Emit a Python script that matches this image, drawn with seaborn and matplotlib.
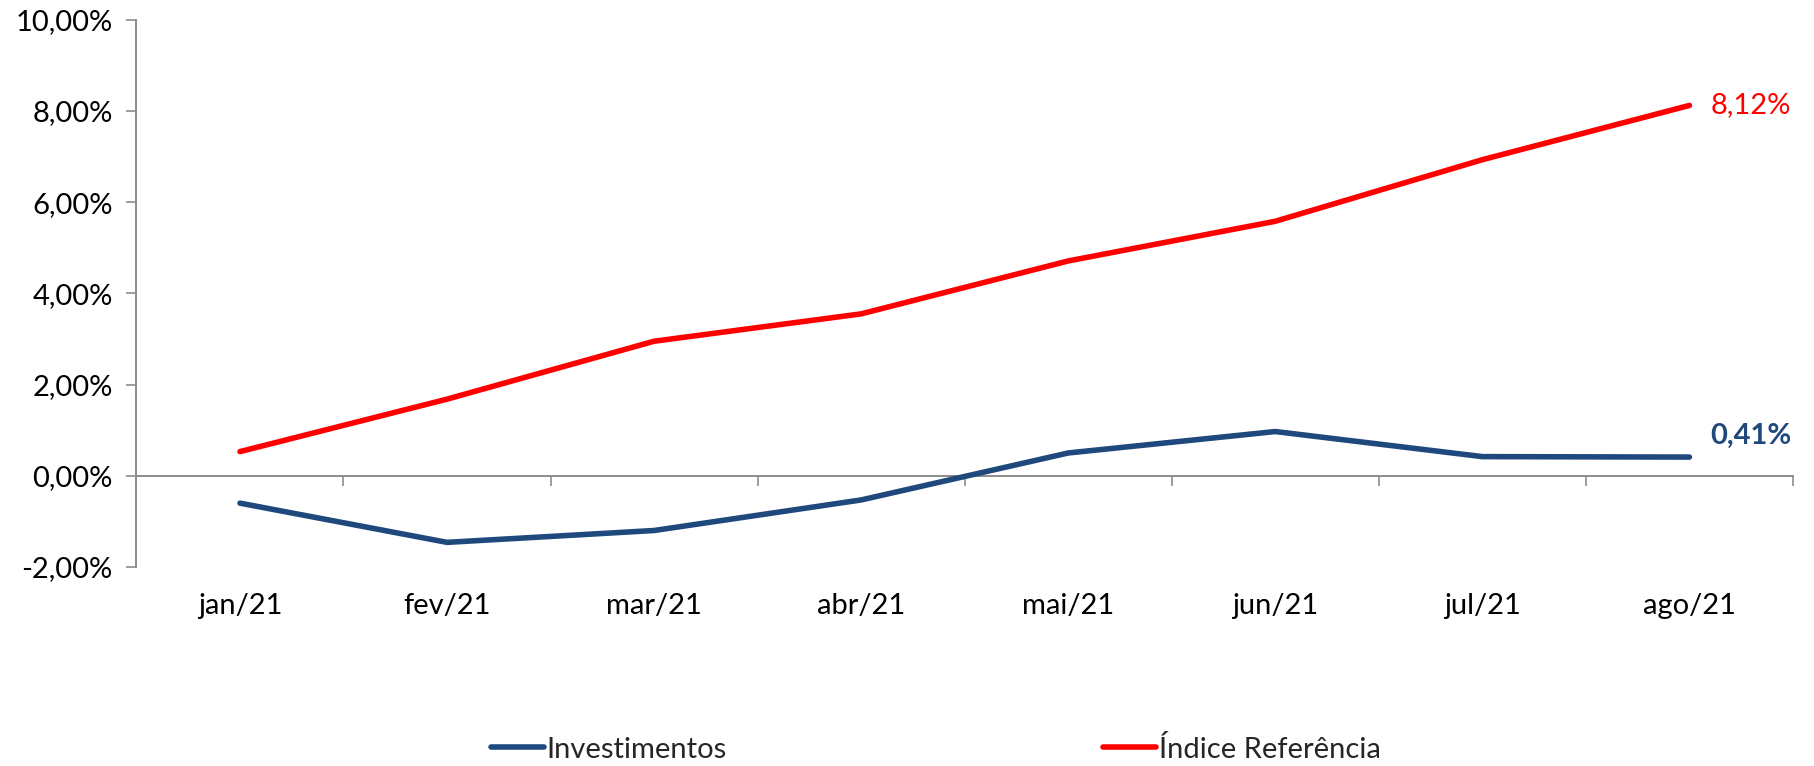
import numpy as np
import pandas as pd
import matplotlib
matplotlib.use("Agg")
import matplotlib.pyplot as plt
import seaborn as sns

# Monthly accumulated returns (%)
meses = ["jan/21", "fev/21", "mar/21", "abr/21", "mai/21", "jun/21", "jul/21", "ago/21"]
investimentos = [-0.60, -1.46, -1.20, -0.53, 0.50, 0.97, 0.42, 0.41]
indice_referencia = [0.53, 1.68, 2.95, 3.55, 4.71, 5.58, 6.93, 8.12]
series_nomes = ["Investimentos", "Índice Referência"]
y_ticks = [-2, 0, 2, 4, 6, 8, 10]

sns.set_theme(style="white")
plt.rcParams["font.family"] = ["Lato", "DejaVu Sans"]

cor_inv = "#1F497D"
cor_ref = "#FF0000"
cinza = "#8C8C8C"
fs = 21

pos = np.arange(len(meses))
df = pd.DataFrame({
    "pos": np.concatenate([pos, pos]),
    "valor": investimentos + indice_referencia,
    "serie": [series_nomes[0]] * len(meses) + [series_nomes[1]] * len(meses),
})

fig = plt.figure(figsize=(18.14, 7.66), dpi=100)
ax = fig.add_axes([0.0752, 0.2598, 0.9132, 0.7145])

sns.lineplot(data=df, x="pos", y="valor", hue="serie", hue_order=series_nomes,
             palette=[cor_inv, cor_ref], linewidth=4.0, ax=ax, legend=False,
             solid_capstyle="round", solid_joinstyle="miter")

ax.set_xlim(-0.5, len(meses) - 0.5)
ax.set_ylim(min(y_ticks), max(y_ticks))

# y axis
ax.set_yticks(y_ticks)
ax.set_yticklabels([f"{v:.2f}".replace(".", ",") + "%" for v in y_ticks])
ax.tick_params(axis="y", direction="out", length=7, width=1.2, color=cinza,
               pad=10, labelsize=fs, labelcolor="black", left=True)

# category labels at the bottom
ax.set_xticks(pos)
ax.set_xticklabels(meses)
ax.tick_params(axis="x", length=0, pad=19, labelsize=fs, labelcolor="black")
ax.set_xlabel("")
ax.set_ylabel("")

for s in ["top", "right", "bottom"]:
    ax.spines[s].set_visible(False)
ax.spines["left"].set_color(cinza)
ax.spines["left"].set_linewidth(1.4)

# zero line with category separators
zero_frac = (0 - min(y_ticks)) / (max(y_ticks) - min(y_ticks))
sec = ax.secondary_xaxis(zero_frac)
sec.set_xticks(np.arange(len(meses)) + 0.5)
sec.set_xticklabels([])
sec.tick_params(direction="out", length=7, width=1.2, color=cinza)
sec.spines["bottom"].set_color(cinza)
sec.spines["bottom"].set_linewidth(1.4)
for s in ["top", "left", "right"]:
    sec.spines[s].set_visible(False)
ax.set_zorder(sec.get_zorder() + 1)
ax.patch.set_visible(False)

# end-of-series value labels
ax.annotate(f"{indice_referencia[-1]:.2f}".replace(".", ",") + "%",
            xy=(pos[-1], indice_referencia[-1]), xytext=(15, 0),
            textcoords="offset points", ha="left", va="center",
            fontsize=fs, color=cor_ref)
ax.annotate(f"{investimentos[-1]:.2f}".replace(".", ",") + "%",
            xy=(pos[-1], investimentos[-1]), xytext=(15, 15),
            textcoords="offset points", ha="left", va="center",
            fontsize=fs, color=cor_inv, fontweight="bold")

# legend
handles = [plt.Line2D([], [], color=cor_inv, lw=4.0, solid_capstyle="round"),
           plt.Line2D([], [], color=cor_ref, lw=4.0, solid_capstyle="round")]
fig.legend(handles, series_nomes, loc="center", bbox_to_anchor=(0.516, 0.022),
           ncol=2, frameon=False, fontsize=fs, handlelength=1.8,
           handletextpad=0.1, columnspacing=12.9)

fig.savefig("out.png", dpi=100)
